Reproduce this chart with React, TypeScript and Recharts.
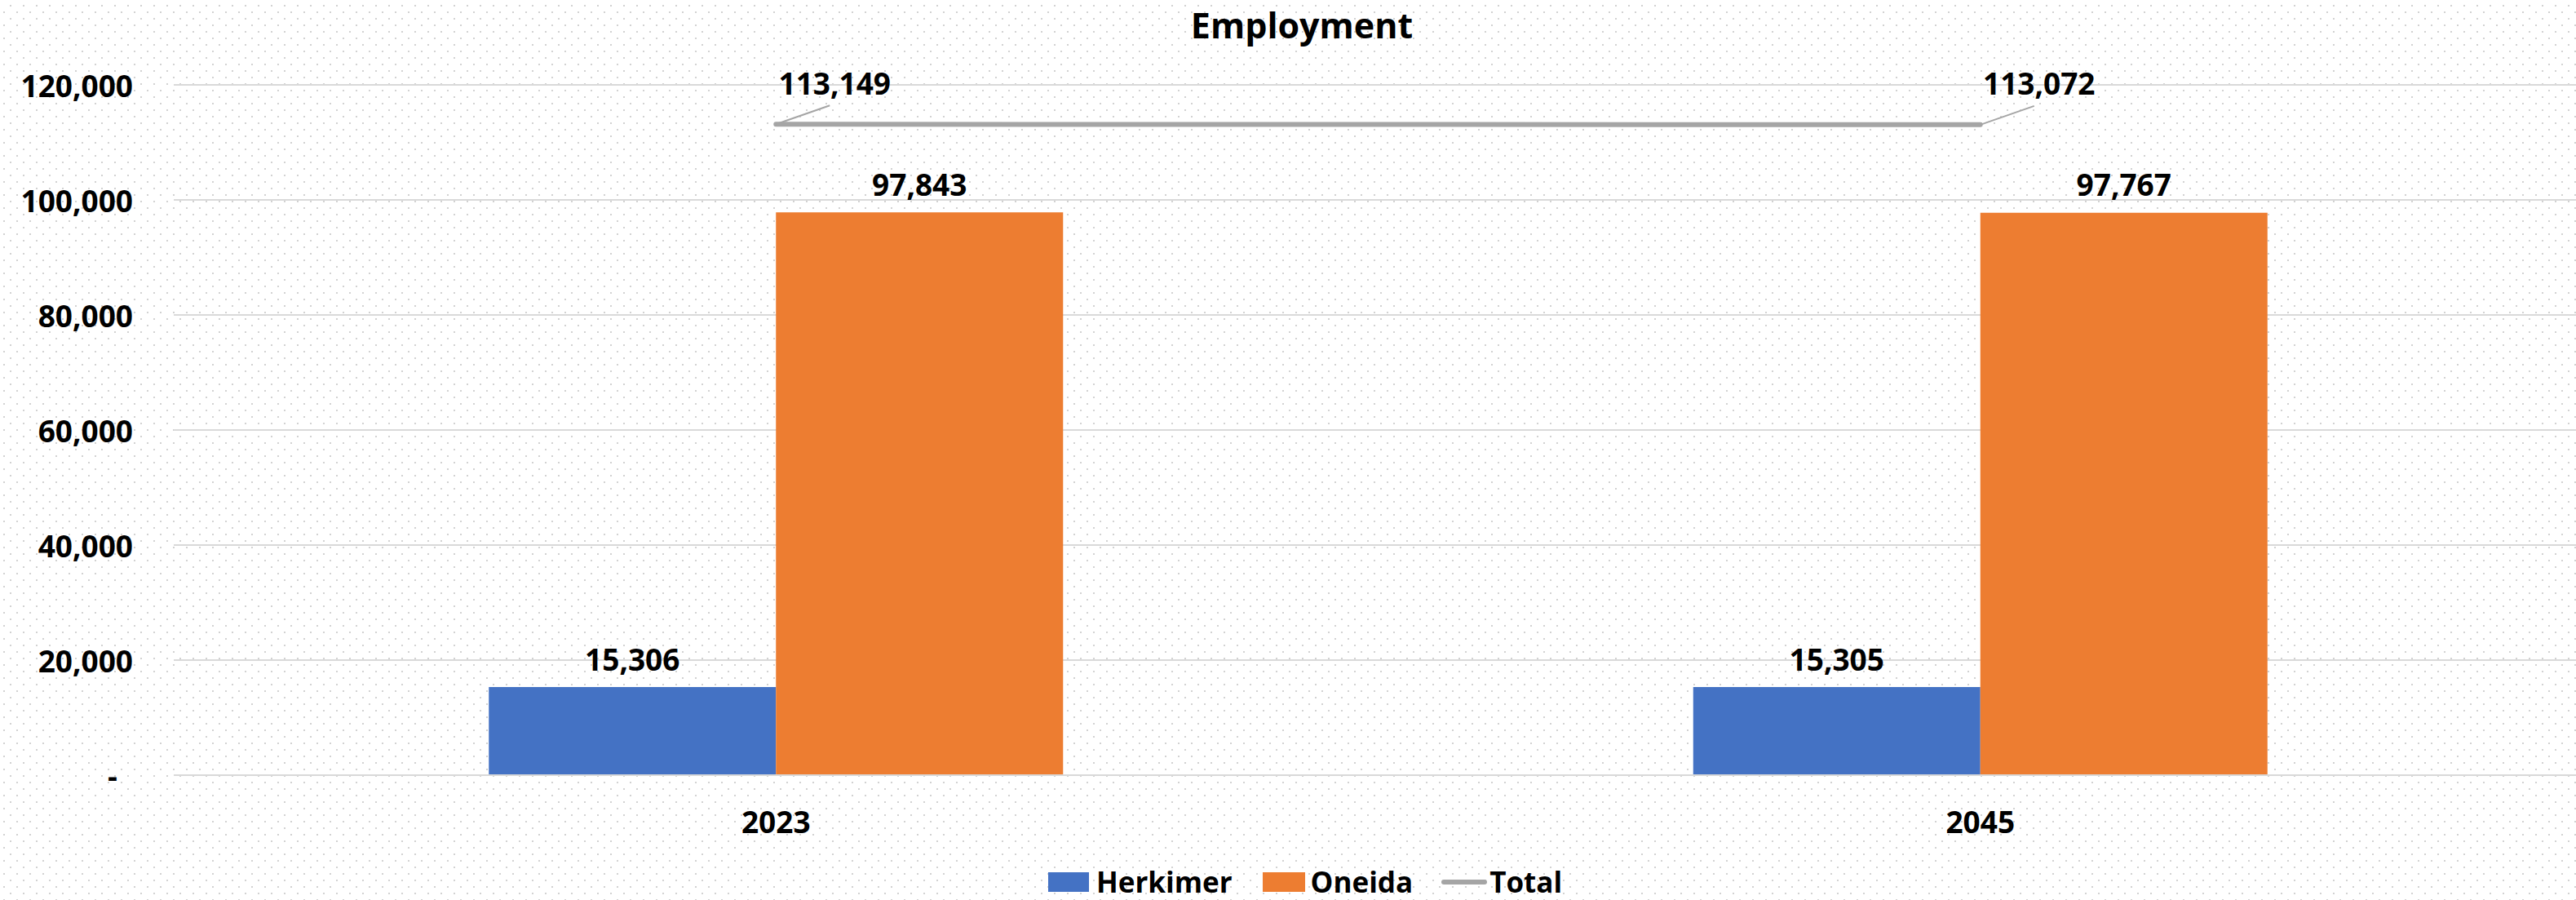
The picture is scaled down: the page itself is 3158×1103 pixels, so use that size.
import React from 'react';
import { ComposedChart, Bar, Line, XAxis, YAxis, CartesianGrid, Legend, LabelList } from 'recharts';

const years = ['2023', '2045'];
const herkimer = [15306, 15305];
const oneida = [97843, 97767];
const total = [113149, 113072];
const yTicks = [0, 20000, 40000, 60000, 80000, 100000, 120000];

const data = years.map((y, i) => ({ year: y, Herkimer: herkimer[i], Oneida: oneida[i], Total: total[i] }));

const FONT = "'Open Sans', 'Noto Sans', sans-serif";
const FS = 37;
const fmt = (v: number) => Number(v).toLocaleString('en-US');

const BLUE = '#4472c4';
const ORANGE = '#ed7d31';
const GRAY = '#a5a5a5';

const YTick = (props: any) => {
  const { x, y, payload } = props;
  const v = payload.value;
  return (
    <text x={v === 0 ? x - 19 : x} y={y} textAnchor="end" dominantBaseline="central"
      fontFamily={FONT} fontSize={FS} fontWeight={700} fill="#000">
      {v === 0 ? '-' : fmt(v)}
    </text>
  );
};

const XTick = (props: any) => {
  const { x, y, payload } = props;
  return (
    <text x={x} y={y} textAnchor="middle" dominantBaseline="central"
      fontFamily={FONT} fontSize={FS} fontWeight={700} fill="#000">
      {payload.value}
    </text>
  );
};

const BarLabel = (props: any) => {
  const { x, y, width, value } = props;
  return (
    <text x={x + width / 2} y={y - 35} textAnchor="middle" dominantBaseline="central"
      fontFamily={FONT} fontSize={FS} fontWeight={700} fill="#000">
      {fmt(value)}
    </text>
  );
};

const LineLabel = (props: any) => {
  const { x, y, value } = props;
  return (
    <g>
      <line x1={x} y1={y} x2={x + 66} y2={y - 23} stroke={GRAY} strokeWidth={2} />
      <text x={x + 72} y={y - 51} textAnchor="middle" dominantBaseline="central"
        fontFamily={FONT} fontSize={FS} fontWeight={700} fill="#000">
        {fmt(value)}
      </text>
    </g>
  );
};

const LFS = 35;

const LegendContent = () => {
  const item = (swatch: React.ReactNode, label: string, gapAfter: number) => (
    <div style={{ display: 'flex', alignItems: 'center', marginRight: gapAfter }}>
      {swatch}
      <span style={{ fontFamily: FONT, fontSize: LFS, fontWeight: 700, color: '#000', lineHeight: 1 }}>{label}</span>
    </div>
  );
  return (
    <div style={{ display: 'flex', justifyContent: 'center', alignItems: 'center', height: 45, paddingLeft: 34 }}>
      {item(<div style={{ width: 50, height: 24, background: BLUE, marginRight: 9 }} />, 'Herkimer', 37)}
      {item(<div style={{ width: 52, height: 24, background: ORANGE, marginRight: 7 }} />, 'Oneida', 35)}
      {item(<div style={{ width: 56, height: 6, borderRadius: 3, background: GRAY, marginRight: 3 }} />, 'Total', 0)}
    </div>
  );
};

export default function App() {
  return (
    <div style={{
      position: 'absolute', left: 0, top: 0, width: 3158, height: 1103, overflow: 'hidden',
      backgroundColor: '#fff',
      backgroundImage: 'radial-gradient(circle, #d2d2d2 1.1px, transparent 1.3px), radial-gradient(circle, #d2d2d2 1.1px, transparent 1.3px)',
      backgroundSize: '16px 16px, 16px 16px',
      backgroundPosition: '5px -1px, -3px 7px',
    }}>
      <div style={{
        position: 'absolute', left: 0, width: 3192, top: 5, textAlign: 'center',
        fontFamily: FONT, fontSize: 43, fontWeight: 700, color: '#000', lineHeight: '52px',
      }}>Employment</div>
      <ComposedChart width={3166} height={1103} data={data}
        margin={{ top: 104, right: 0, bottom: 0, left: 0 }}
        barCategoryGap="26.16%" barGap={0}>
        <CartesianGrid vertical={false} stroke="#d9d9d9" strokeWidth={2} />
        <XAxis dataKey="year" height={108} axisLine={{ stroke: '#d9d9d9', strokeWidth: 2 }} tickLine={false}
          tickSize={0} tickMargin={56} tick={<XTick />} />
        <YAxis width={213} domain={[0, 120000]} ticks={yTicks} axisLine={false} tickLine={false}
          tickSize={0} tickMargin={50} tick={<YTick />} interval={0} />
        <Legend verticalAlign="bottom" height={45} content={<LegendContent />} />
        <Bar dataKey="Herkimer" fill={BLUE} isAnimationActive={false}>
          <LabelList dataKey="Herkimer" content={<BarLabel />} />
        </Bar>
        <Bar dataKey="Oneida" fill={ORANGE} isAnimationActive={false}>
          <LabelList dataKey="Oneida" content={<BarLabel />} />
        </Bar>
        <Line dataKey="Total" stroke={GRAY} strokeWidth={6} strokeLinecap="round" dot={false}
          activeDot={false} isAnimationActive={false}>
          <LabelList dataKey="Total" content={<LineLabel />} />
        </Line>
      </ComposedChart>
    </div>
  );
}
